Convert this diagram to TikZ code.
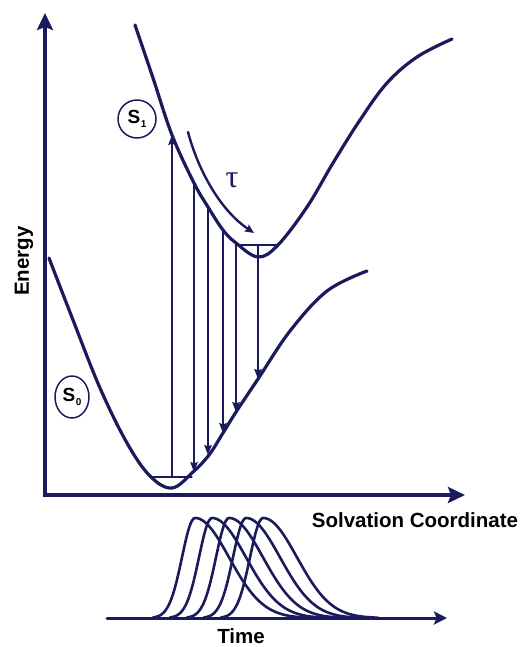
\documentclass[tikz,border=0pt]{standalone}
\usepackage{fontspec}
\setmainfont{Liberation Sans}
\newfontfamily\taufont{Liberation Serif}
\usetikzlibrary{arrows.meta,shapes.geometric}
\definecolor{scNavy}{HTML}{1A1A5C}
\newcommand{\stsub}[1]{\kern0.5pt\raisebox{-4pt}{\fontsize{10}{10}\selectfont #1}}

\begin{document}
\begin{tikzpicture}[x=1pt, y=-1pt, >=Stealth, line cap=round, line join=round,
    axis/.style={scNavy, line width=4pt, line cap=butt, line join=miter},
    pes/.style={scNavy, line width=3.2pt, smooth, tension=0.6},
    trans/.style={scNavy, line width=1.7pt, -{Stealth[length=10pt,width=7.5pt,inset=1.5pt]}},
    level/.style={scNavy, line width=1.3pt},
    pulse/.style={scNavy, line width=2.6pt},
    statelbl/.style={ellipse, draw=scNavy, line width=1.5pt, inner sep=0pt,
                     font=\fontsize{19}{20}\selectfont\bfseries},
    lbl/.style={font=\fontsize{20.5}{24}\selectfont\bfseries}]
    \useasboundingbox (0,0) rectangle (519,647);

    % ── axes ──────────────────────────────────────────────────────────────
    \coordinate (O)    at (45,495);
    \coordinate (ytop) at (45,13);
    \coordinate (xend) at (465,495);
    \draw[axis, {Stealth[length=17pt,width=16pt,inset=3pt]}-{Stealth[length=17pt,width=16pt,inset=3pt]}]
      (ytop) -- (O) -- (xend);
    \node[lbl, rotate=90] (energy) at (24,261) {Energy};
    \node[lbl] (solv) at (415,520) {Solvation Coordinate};

    % ── excited state S1 ──────────────────────────────────────────────────
    \draw[pes] plot coordinates {
        (135,25) (153,78) (172,135) (194,183) (208,207) (223,230) (236,243)
        (258,257) (278,245) (307,207) (333,163) (360,120) (387,83)
        (417,57) (452,39)
      };
    \coordinate (l1a) at (238,245);
    \coordinate (l1b) at (278,245);
    \draw[level] (l1a) -- (l1b);
    \node[statelbl, minimum width=38pt, minimum height=38pt] (S1) at (137,119) {S\stsub{1}};

    % ── ground state S0 ───────────────────────────────────────────────────
    \draw[pes] plot coordinates {
        (49,258) (73,320) (100,388) (127,443) (150,476) (172,488)
        (193,472) (209,455) (223,433) (236,412) (258,379)
        (290,331) (327,291) (367,271)
      };
    \coordinate (l0a) at (152,477);
    \coordinate (l0b) at (192,477);
    \draw[level] (l0a) -- (l0b);
    \node[statelbl, minimum width=34pt, minimum height=42pt] (S0) at (72,397) {S\stsub{0}};

    % ── absorption and time-resolved emission ─────────────────────────────
    \coordinate (abs0) at (172,477);
    \coordinate (abs1) at (172,135);
    \draw[trans] (abs0) -- (abs1);
    \foreach \xx/\yt/\yb [count=\i] in {194/183/472, 208/207/455, 223/230/433,
                                        236/243/412, 258/245/379} {
      \coordinate (em\i) at (\xx,\yt);
      \coordinate (gr\i) at (\xx,\yb);
      \draw[trans] (em\i) -- (gr\i);
    }

    % ── relaxation along S1 ───────────────────────────────────────────────
    \coordinate (r0) at (188,132);
    \coordinate (r1) at (254,233);
    \draw[scNavy, line width=2.4pt, -{Stealth[length=9pt,width=8pt,inset=1.5pt]}]
      (r0) .. controls (198,170) and (220,210) .. (r1);
    \node[font=\fontsize{32}{34}\selectfont\taufont, scNavy] (tau) at (232,180) {τ};

    % ── emission spectra in time ──────────────────────────────────────────
    \coordinate (t0) at (107,618);
    \coordinate (t1) at (447,618);
    \draw[scNavy, line width=3pt, -{Stealth[length=13pt,width=13pt,inset=2.5pt]}] (t0) -- (t1);
    \foreach \p in {195,212,229,246,263}
      \draw[pulse] plot[domain=-42:115, samples=90, smooth]
        ({\p+\x}, {618-100*exp(-(\x*\x)/(2*(ifthenelse(\x<0,13,34))^2))});
    \node[lbl] (time) at (241,636) {Time};
\end{tikzpicture}
\end{document}
